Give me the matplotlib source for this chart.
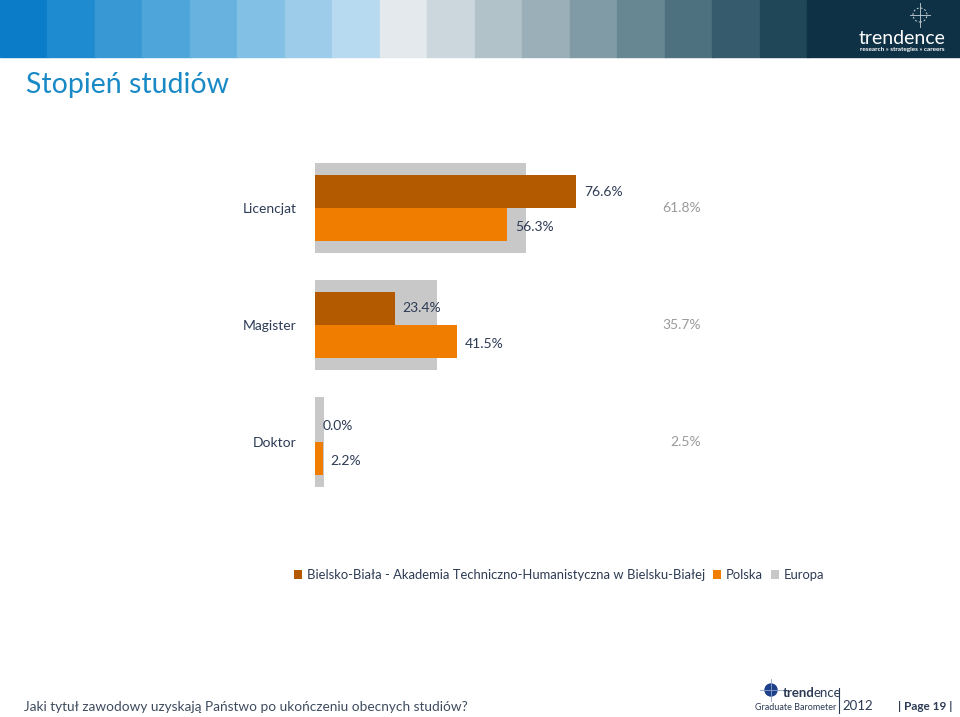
import matplotlib.pyplot as plt
from matplotlib.patches import Rectangle, Circle
import numpy as np

plt.rcParams['font.family'] = ['Lato', 'DejaVu Sans']

# data
categories = ['Licencjat', 'Magister', 'Doktor']
uczelnia = [76.6, 23.4, 0.0]
polska = [56.3, 41.5, 2.2]
europa = [61.8, 35.7, 2.5]
series_names = ['Bielsko-Biała - Akademia Techniczno-Humanistyczna w Bielsku-Białej',
                'Polska', 'Europa']

c_uczelnia = '#b35a00'
c_polska = '#f07c00'
c_europa = '#c8c8c8'
c_text = '#2d3b55'

W, H = 960, 717
fig = plt.figure(figsize=(W / 100, H / 100), dpi=100)

# header colour strip
strip = ['#0a7cc8', '#1e8bd0', '#3898d4', '#4ea5da', '#68b2e0', '#82c0e5',
         '#9dcbea', '#b8daf0', '#e3e9ec', '#cbd7dd', '#b2c2c9', '#9aafb8',
         '#819ba6', '#678893', '#4e7180', '#365b6c', '#1f4758']
bw = 807 / len(strip)
for i, c in enumerate(strip):
    fig.patches.append(Rectangle((i * bw / W, 1 - 57 / H), bw / W + 0.001, 57 / H,
                                 transform=fig.transFigure, color=c, zorder=0))
fig.patches.append(Rectangle((807 / W, 1 - 57 / H), 153 / W, 57 / H,
                             transform=fig.transFigure, color='#0f3145', zorder=0))
# logo in the header
cx, cy = 920 / W, 1 - 15 / H
fig.patches.append(Circle((920, H - 15), 7, transform=None, fill=False,
                          ec='#c9d4da', lw=0.7, ls=(0, (2, 2))))
fig.add_artist(plt.Line2D([910 / W, 930 / W], [cy, cy], color='#c9d4da', lw=0.6))
fig.add_artist(plt.Line2D([cx, cx], [1 - 3 / H, 1 - 27 / H], color='#c9d4da', lw=0.6))
fig.text(902 / W, 1 - 38 / H, 'trendence', color='white', fontsize=14,
         ha='center', va='center')
fig.text(902 / W, 1 - 49 / H, 'research » strategies » careers', color='white',
         fontsize=4.6, fontweight='bold', ha='center', va='center')

# title
fig.text(26 / W, 1 - 85 / H, 'Stopień studiów', color='#1a8ac6', fontsize=20.5,
         ha='left', va='center')

# chart
ax_left, ax_right = 315, 705
ax_top, ax_bot = 149.5, 500.5
ax = fig.add_axes([ax_left / W, 1 - ax_bot / H, (ax_right - ax_left) / W,
                   (ax_bot - ax_top) / H])
px = 3.41
ax.set_xlim(0, (ax_right - ax_left) / px)
ax.set_ylim(2.5, -0.5)
y = np.arange(len(categories))
h = 33 / 117

b3 = ax.barh(y, europa, height=90 / 117, color=c_europa, label=series_names[2], zorder=1)
b1 = ax.barh(y - h / 2, uczelnia, height=h, color=c_uczelnia, label=series_names[0], zorder=2)
b2 = ax.barh(y + h / 2, polska, height=h, color=c_polska, label=series_names[1], zorder=2)

off = 8 / px
for i in range(len(categories)):
    ax.text(uczelnia[i] + off, y[i] - h / 2, f'{uczelnia[i]:.1f}%', color=c_text,
            fontsize=10, va='center', ha='left')
    ax.text(polska[i] + off, y[i] + h / 2 + 0.02, f'{polska[i]:.1f}%', color=c_text,
            fontsize=10, va='center', ha='left')
    ax.text((701 - ax_left) / px, y[i], f'{europa[i]:.1f}%', color='#9a9a9a',
            fontsize=10, va='center', ha='right')

ax.set_yticks(y)
ax.set_yticklabels(categories, color=c_text, fontsize=10)
ax.tick_params(axis='y', length=0, pad=13)
ax.set_xticks([])
for s in ax.spines.values():
    s.set_visible(False)
ax.patch.set_alpha(0)

fig.legend(handles=[b1, b2, b3], loc='center', bbox_to_anchor=(559 / W, 1 - 575 / H),
           ncol=3, frameon=False, fontsize=9.4, handlelength=0.65, handleheight=0.65,
           handletextpad=0.35, columnspacing=0.6, labelcolor=c_text, borderpad=0)

# footer
fig.text(24 / W, 1 - 707 / H, 'Jaki tytuł zawodowy uzyskają Państwo po ukończeniu obecnych studiów?',
         color='#3e4b5e', fontsize=9.8, ha='left', va='center')
fig.patches.append(Circle((771, H - 690), 6, transform=None, color='#1e3f8a'))
fig.add_artist(plt.Line2D([760 / W, 782 / W], [1 - 690 / H] * 2, color='#8aa0c8', lw=0.6))
fig.add_artist(plt.Line2D([771 / W] * 2, [1 - 679 / H, 1 - 701 / H], color='#8aa0c8', lw=0.6))
fig.text(783 / W, 1 - 693 / H, 'trend', color=c_text, fontsize=9.5, fontweight='bold',
         ha='left', va='center')
fig.text(814 / W, 1 - 693 / H, 'ence', color=c_text, fontsize=9.5, ha='left', va='center')
fig.text(755 / W, 1 - 707 / H, 'Graduate Barometer', color=c_text, fontsize=6.5,
         ha='left', va='center')
fig.add_artist(plt.Line2D([839 / W] * 2, [1 - 688 / H, 1 - 713 / H], color=c_text, lw=0.8))
fig.text(842 / W, 1 - 706 / H, '2012', color=c_text, fontsize=9.5, ha='left', va='center')
fig.text(898 / W, 1 - 706 / H, '| Page 19 |', color=c_text, fontsize=8.5,
         fontweight='bold', ha='left', va='center')

fig.savefig('out.png', dpi=100)
